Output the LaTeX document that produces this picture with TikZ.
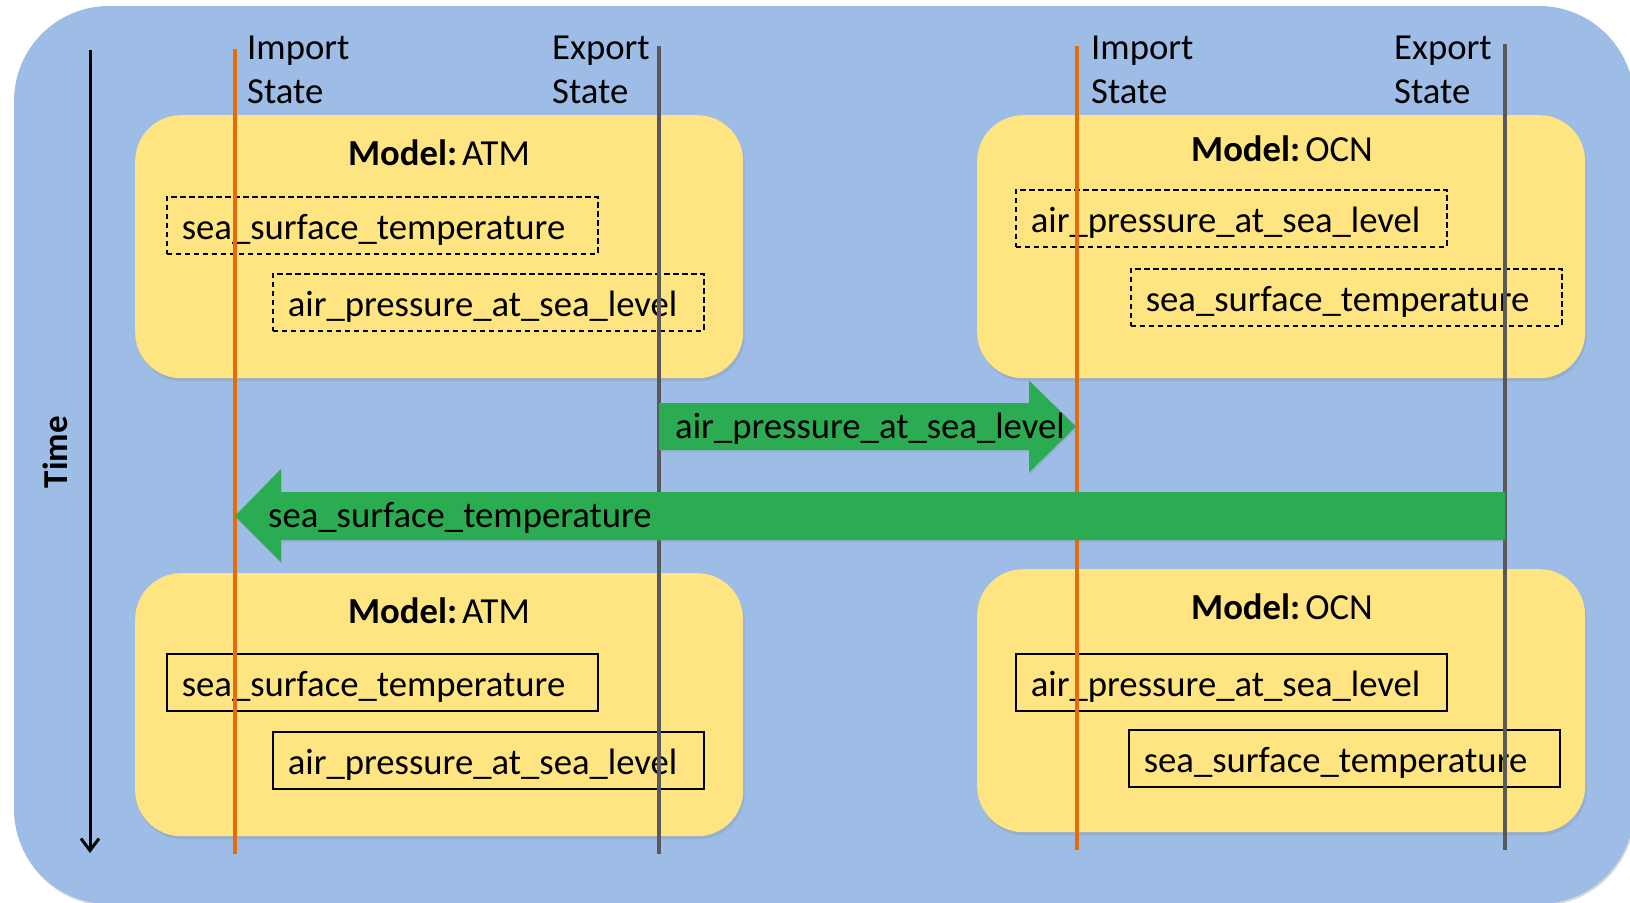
\documentclass[tikz,border=0pt]{standalone}
\usepackage{fontspec}
\setmainfont{Carlito}
\usetikzlibrary{arrows.meta,shadows,calc}

\definecolor{bgblue}{HTML}{9DBDE6}
\definecolor{modelyellow}{HTML}{FEE581}
\definecolor{flowgreen}{HTML}{2BAC53}
\definecolor{importorange}{HTML}{E46C0A}
\definecolor{exportgray}{HTML}{595959}

\newcommand{\modelname}[1]{\textbf{Model:}\hspace{5pt}#1}

\begin{document}
\begin{tikzpicture}[x=1pt,y=-1pt,
  every node/.style={font=\fontsize{36.7}{44}\selectfont, inner sep=0pt},
  softshadow/.style={drop shadow={shadow xshift=1.5pt,shadow yshift=-3pt,opacity=0.22}},
  modelbox/.style={fill=modelyellow, rounded corners=46pt, minimum width=608pt,
    minimum height=263pt, anchor=north west, softshadow},
  modeltitle/.style={anchor=base},
  field/.style={draw=black, line width=1.6pt, text width=401pt, inner xsep=15pt,
    inner ysep=0pt, text height=31pt, text depth=2pt,
    minimum height=57pt, align=left, anchor=north west},
  pending/.style={field, dash pattern=on 5.5pt off 3.5pt},
  statelabel/.style={anchor=west, align=left},
  importline/.style={draw=importorange, line width=3.2pt},
  exportline/.style={draw=exportgray, line width=3.2pt},
  flow/.style={fill=flowgreen, drop shadow={shadow xshift=1pt,shadow yshift=-2pt,opacity=0.18}},
  flowlabel/.style={anchor=base west},
]
\useasboundingbox (0,0) rectangle (1630,902);

% backdrop
\path[fill=bgblue, rounded corners=95pt,
  drop shadow={shadow xshift=1pt,shadow yshift=-2pt,opacity=0.3}]
  (14,6) rectangle (1634,904);

% time axis
\coordinate (t-top) at (90,50);
\coordinate (t-bot) at (90,853);
\draw[line width=3pt, -{Straight Barb[length=12pt,width=18pt]}] (t-top) -- (t-bot);
\node[rotate=90, font=\bfseries\fontsize{35}{42}\selectfont] (time) at (55,452) {Time};

% model components
\node[modelbox] (atm1) at (135,115) {};
\node[modelbox] (ocn1) at (977,115) {};
\node[modelbox] (atm2) at (135,573) {};
\node[modelbox] (ocn2) at (977,569) {};

\node[modeltitle] (atm1-t) at (439,165) {\modelname{ATM}};
\node[modeltitle] (ocn1-t) at (1282,161) {\modelname{OCN}};
\node[modeltitle] (atm2-t) at (439,623) {\modelname{ATM}};
\node[modeltitle] (ocn2-t) at (1282,619) {\modelname{OCN}};

% fields before the exchange
\node[pending] (atm1-sst)  at (166,196)  {sea\_surface\_temperature};
\node[pending] (atm1-apsl) at (272,273)  {air\_pressure\_at\_sea\_level};
\node[pending] (ocn1-apsl) at (1015,189) {air\_pressure\_at\_sea\_level};
\node[pending] (ocn1-sst)  at (1130,268) {sea\_surface\_temperature};

% fields after the exchange
\node[field] (atm2-sst)  at (166,653)  {sea\_surface\_temperature};
\node[field] (atm2-apsl) at (272,731)  {air\_pressure\_at\_sea\_level};
\node[field] (ocn2-apsl) at (1015,653) {air\_pressure\_at\_sea\_level};
\node[field] (ocn2-sst)  at (1128,729) {sea\_surface\_temperature};

% import / export state labels
\node[statelabel] (atm-imp) at (247,70)  {Import\\State};
\node[statelabel] (atm-exp) at (552,70)  {Export\\State};
\node[statelabel] (ocn-imp) at (1091,70) {Import\\State};
\node[statelabel] (ocn-exp) at (1394,70) {Export\\State};

% state lines
\coordinate (ai-top) at (235,49);   \coordinate (ai-bot) at (235,854);
\coordinate (ae-top) at (659,46);   \coordinate (ae-bot) at (659,854);
\coordinate (oi-top) at (1077,46);  \coordinate (oi-bot) at (1077,850);
\coordinate (oe-top) at (1505,44);  \coordinate (oe-bot) at (1505,850);
\draw[importline] (ai-top) -- (ai-bot);
\draw[exportline] (ae-top) -- (ae-bot);
\draw[importline] (oi-top) -- (oi-bot);
\draw[exportline] (oe-top) -- (oe-bot);

% transfers between the states
\coordinate (apsl-from) at (659,426.5);
\coordinate (apsl-to)   at (1076,426.5);
\fill[flow] ($(apsl-from)+(0,-23.5)$) -- ($(apsl-to)+(-47,-23.5)$)
  -- ($(apsl-to)+(-47,-46)$) -- (apsl-to) -- ($(apsl-to)+(-47,46)$)
  -- ($(apsl-to)+(-47,23.5)$) -- ($(apsl-from)+(0,23.5)$) -- cycle;
\node[flowlabel] (apsl-lbl) at (675,438) {air\_pressure\_at\_sea\_level};

\coordinate (sst-from) at (1505,516);
\coordinate (sst-to)   at (235,516);
\fill[flow] ($(sst-from)+(0,-24)$) -- ($(sst-to)+(46,-24)$)
  -- ($(sst-to)+(46,-47)$) -- (sst-to) -- ($(sst-to)+(46,46)$)
  -- ($(sst-to)+(46,24)$) -- ($(sst-from)+(0,24)$) -- cycle;
\node[flowlabel] (sst-lbl) at (268,527) {sea\_surface\_temperature};

\end{tikzpicture}
\end{document}
